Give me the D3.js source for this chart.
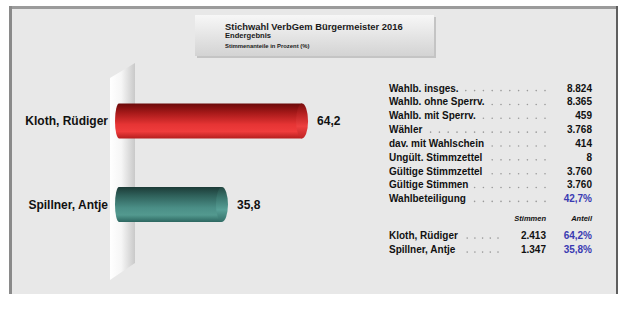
<!DOCTYPE html>
<html><head><meta charset="utf-8">
<script src="https://cdn.jsdelivr.net/npm/d3@7"></script>
<style>body{margin:0;background:#fff}svg{display:block;font-family:"Liberation Sans",Arial,sans-serif}</style>
</head><body>
<script>
// ---- data ----
const candidates = ["Kloth, Rüdiger", "Spillner, Antje"];
const shares = [64.2, 35.8];
const valueLabels = ["64,2", "35,8"];
const statLabels = ["Wahlb. insges.", "Wahlb. ohne Sperrv.", "Wahlb. mit Sperrv.", "Wähler", "dav. mit Wahlschein", "Ungült. Stimmzettel", "Gültige Stimmzettel", "Gültige Stimmen", "Wahlbeteiligung"];
const statValues = ["8.824", "8.365", "459", "3.768", "414", "8", "3.760", "3.760", "42,7%"];
const votes = ["2.413", "1.347"];
const shareLabels = ["64,2%", "35,8%"];
const titleLines = ["Stichwahl VerbGem Bürgermeister 2016", "Endergebnis", "Stimmenanteile in Prozent (%)"];
const colHeaders = ["Stimmen", "Anteil"];

const W = 634, H = 334;
const svg = d3.select("body").append("svg").attr("width", W).attr("height", H);
const defs = svg.append("defs");

function vgrad(id, stops, horiz) {
  const g = defs.append("linearGradient").attr("id", id)
    .attr("x1", 0).attr("y1", 0).attr("x2", horiz ? 1 : 0).attr("y2", horiz ? 0 : 1);
  stops.forEach(s => g.append("stop").attr("offset", s[0]).attr("stop-color", s[1]));
}
vgrad("gRed", [[0, "#6a0a0a"], [0.25, "#a31818"], [0.6, "#e63434"], [0.8, "#f03c3c"], [1, "#b51e1e"]]);
vgrad("gRedCap", [[0, "#7a0e0e"], [0.3, "#b82222"], [0.65, "#ee4040"], [1, "#c02424"]]);
vgrad("gTeal", [[0, "#1c3b37"], [0.25, "#2f615b"], [0.6, "#4b8f87"], [0.8, "#53998f"], [1, "#2c6660"]]);
vgrad("gTealCap", [[0, "#234842"], [0.3, "#3a756d"], [0.65, "#58a097"], [1, "#336f68"]]);
vgrad("gWall", [[0, "#ffffff"], [0.45, "#f6f6f6"], [1, "#c9c9c9"]], true);
vgrad("gTitle", [[0, "#f7f7f7"], [1, "#d3d3d3"]]);

// ---- panel ----
svg.append("rect").attr("x", 9).attr("y", 6).attr("width", 609).attr("height", 288).attr("fill", "#e8e8e8");
svg.append("rect").attr("x", 9).attr("y", 6).attr("width", 609).attr("height", 3).attr("fill", "#9b9b9b");
svg.append("rect").attr("x", 9).attr("y", 6).attr("width", 3).attr("height", 288).attr("fill", "#8a8a8a");
svg.append("rect").attr("x", 616).attr("y", 6).attr("width", 2).attr("height", 288).attr("fill", "#5e5e5e");

// ---- title box ----
svg.append("rect").attr("x", 197).attr("y", 17).attr("width", 239).attr("height", 41).attr("fill", "#c4c4c4");
svg.append("rect").attr("x", 195).attr("y", 15).attr("width", 239).attr("height", 41).attr("fill", "url(#gTitle)");
const tSizes = [9.4, 7.6, 5.9], tY = [29.5, 37.5, 48];
titleLines.forEach((t, i) => svg.append("text").attr("x", 225).attr("y", tY[i])
  .attr("font-size", tSizes[i]).attr("font-weight", "bold").attr("fill", "#1a1a1a").text(t));

// ---- wall ----
svg.append("path").attr("d", "M110,78 L135,63 L135,263 L110,280 Z").attr("fill", "url(#gWall)");

// ---- bars ----
const x = d3.scaleLinear().domain([0, 100]).range([121, 403]);
const y = d3.scalePoint().domain(candidates).range([121, 204.5]);
const bh = 35, rx = 6;
const fills = [["url(#gRed)", "url(#gRedCap)"], ["url(#gTeal)", "url(#gTealCap)"]];
candidates.forEach((c, i) => {
  const cy = y(c), x0 = x(0) - 2, x1 = x(shares[i]);
  const top = cy - bh / 2, bot = cy + bh / 2;
  svg.append("path")
    .attr("d", `M${x0},${top} L${x1},${top} L${x1},${bot} L${x0},${bot} A4,${bh / 2} 0 0 1 ${x0},${top} Z`)
    .attr("fill", fills[i][0]);
  svg.append("ellipse").attr("cx", x1).attr("cy", cy).attr("rx", rx).attr("ry", bh / 2).attr("fill", fills[i][1]);
  svg.append("text").attr("x", 108).attr("y", cy + 4.3).attr("text-anchor", "end")
    .attr("font-size", 12).attr("font-weight", "bold").attr("fill", "#111").text(c);
  svg.append("text").attr("x", x1 + 15).attr("y", cy + 4.3)
    .attr("font-size", 12).attr("font-weight", "bold").attr("fill", "#111").text(valueLabels[i]);
});

// ---- table ----
const blue = "#3a3ab2";
function dots(xStart, xEnd, yb, step) {
  for (let p = xEnd; p >= xStart; p -= step)
    svg.append("circle").attr("cx", p).attr("cy", yb - 0.9).attr("r", 0.8).attr("fill", "#9a9a9a");
}
statLabels.forEach((s, i) => {
  const yb = 91.5 + i * 13.85;
  const t = svg.append("text").attr("x", 389).attr("y", yb).attr("font-size", 10)
    .attr("font-weight", "bold").attr("fill", "#111").text(s);
  const end = 389 + t.node().getComputedTextLength();
  dots(end + 6, 545, yb, 8.8);
  svg.append("text").attr("x", 592).attr("y", yb).attr("font-size", 10).attr("text-anchor", "end")
    .attr("font-weight", "bold").attr("fill", i === statLabels.length - 1 ? blue : "#111").text(statValues[i]);
});
[546, 592].forEach((xx, i) => svg.append("text").attr("x", xx).attr("y", 220.5).attr("text-anchor", "end")
  .attr("font-size", 7.5).attr("font-weight", "bold").attr("font-style", "italic").attr("fill", "#111").text(colHeaders[i]));
candidates.forEach((c, i) => {
  const yb = 239 + i * 14;
  const t = svg.append("text").attr("x", 389).attr("y", yb).attr("font-size", 10)
    .attr("font-weight", "bold").attr("fill", "#111").text(c);
  const end = 389 + t.node().getComputedTextLength();
  dots(end + 5, 498, yb, 7.7);
  svg.append("text").attr("x", 546).attr("y", yb).attr("font-size", 10).attr("text-anchor", "end")
    .attr("font-weight", "bold").attr("fill", "#111").text(votes[i]);
  svg.append("text").attr("x", 592).attr("y", yb).attr("font-size", 10).attr("text-anchor", "end")
    .attr("font-weight", "bold").attr("fill", blue).text(shareLabels[i]);
});
</script>
</body></html>
